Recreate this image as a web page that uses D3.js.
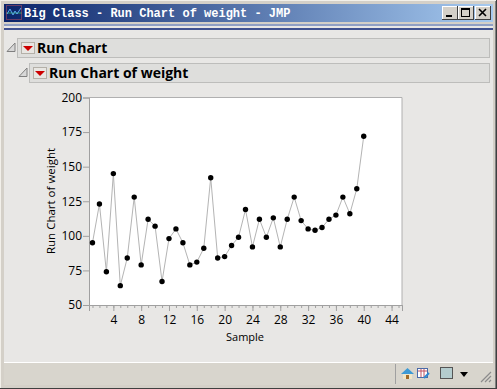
<!DOCTYPE html>
<html>
<head>
<meta charset="utf-8">
<script src="https://cdn.jsdelivr.net/npm/d3@7"></script>
<style>
html, body { margin: 0; padding: 0; background: #d4d0c8; overflow: hidden; }
svg { display: block; }
text { font-family: "Open Sans", sans-serif; }
</style>
</head>
<body>
<script>
let weights = [95, 123, 74, 145, 64, 84, 128, 79, 112, 107, 67, 98, 105, 95, 79, 81, 91, 142, 84, 85,
    93, 99, 119, 92, 112, 99, 113, 92, 112, 128, 111, 105, 104, 106, 112, 115, 128, 116, 134, 172];
let samples = d3.range(1, weights.length + 1);
let xLabels = [4, 8, 12, 16, 20, 24, 28, 32, 36, 40, 44];
let xMinor = d3.range(1, 46);
let yLabels = [50, 75, 100, 125, 150, 175, 200];

let windowTitle = "Big Class - Run Chart of weight - JMP";
let outlineTitle = "Run Chart";
let reportTitle = "Run Chart of weight";
let xTitle = "Sample";
let yTitle = "Run Chart of weight";

let size = {width: 497, height: 389};
let plot = {left: 89, right: 402, top: 97.5, bottom: 305};

let svg = d3.select("body").append("svg")
    .attr("width", size.width)
    .attr("height", size.height);

let defs = svg.append("defs");
let grad = defs.append("linearGradient").attr("id", "titlebar");
grad.append("stop").attr("offset", "0%").attr("stop-color", "#0a246a");
grad.append("stop").attr("offset", "100%").attr("stop-color", "#a6caf0");

// window frame
let rect = (x, y, w, h, fill, stroke) => svg.append("rect")
    .attr("x", x).attr("y", y).attr("width", w).attr("height", h)
    .attr("fill", fill).attr("stroke", stroke || "none");

rect(0, 0, 497, 389, "#d4d0c8");
rect(0, 0, 497, 1, "#f2f0ea");
rect(0, 0, 1, 389, "#f2f0ea");
rect(496, 0, 1, 389, "#404040");
rect(0, 388, 497, 1, "#404040");
rect(495, 1, 1, 387, "#808080");
rect(4, 4, 489, 18, "url(#titlebar)");
rect(4, 24, 489, 2, "#8f9fc4");
rect(4, 26, 489, 2, "#e8e7e5");
rect(4, 28, 489, 2, "#3f5190");
rect(4, 30, 489, 332, "#e8e7e5");
rect(4, 362, 489, 1, "#ffffff");
rect(4, 363, 489, 22, "#d8d5cd");
rect(395, 364, 1, 20, "#a0a0a0");

// title bar
svg.append("g").attr("stroke", "#1aa05a").attr("fill", "none").call(g => {
    g.append("path").attr("d", "M6 13H22").attr("stroke", "#2fa060");
    g.append("path").attr("d", "M7 14L10 9L13 15L15 11L17 14L21 8").attr("stroke", "#5aa8ee");
    g.append("rect").attr("x", 6.5).attr("y", 5.5).attr("width", 15).attr("height", 14)
        .attr("stroke", "#c05060").attr("stroke-dasharray", "1 1");
});
svg.append("text")
    .attr("x", 24).attr("y", 17)
    .style("font-family", "'Liberation Mono', monospace")
    .style("font-weight", "bold").style("font-size", "12px")
    .attr("fill", "#ffffff")
    .text(windowTitle);

// window buttons
[442, 458, 475].forEach((x, i) => {
    rect(x, 6, 16, 14, "#d4d0c8");
    rect(x, 6, 16, 1, "#ffffff");
    rect(x, 6, 1, 14, "#ffffff");
    rect(x, 19, 16, 1, "#404040");
    rect(x + 15, 6, 1, 14, "#404040");
    if (i === 0) rect(x + 4, 15, 6, 2, "#000000");
    if (i === 1) {
        rect(x + 3.5, 8.5, 8, 8, "none", "#000000");
        rect(x + 3, 8, 9, 2, "#000000");
    }
    if (i === 2) {
        svg.append("path").attr("d", `M${x + 4} 9L${x + 11} 16M${x + 11} 9L${x + 4} 16`)
            .attr("stroke", "#000000").attr("stroke-width", 1.6);
    }
});

// outline headers
function header(x, y, w, label) {
    rect(x + 0.5, y + 0.5, w, 19, "#dededc", "#bdbdbb");
    svg.append("path").attr("d", `M${x - 10} ${y + 13.5}H${x - 2}V${y + 5}Z`)
        .attr("fill", "#d8d8d8").attr("stroke", "#808080");
    rect(x + 4.5, y + 4.5, 13, 11, "#e8e6e2", "#b4b0a8");
    svg.append("path").attr("d", `M${x + 6} ${y + 8}H${x + 16}L${x + 11} ${y + 13}Z`).attr("fill", "#cc0000");
    svg.append("text").attr("x", x + 20).attr("y", y + 15)
        .style("font-family", "'Open Sans', sans-serif")
        .style("font-weight", "bold").style("font-size", "14px")
        .attr("fill", "#000000").text(label);
}
header(17, 38, 472, outlineTitle);
header(29, 63, 460, reportTitle);

// scales
let x = d3.scaleLinear().domain([0.5, 45.5]).range([plot.left, plot.right]);
let y = d3.scaleLinear().domain([50, 200]).range([plot.bottom, plot.top]);

svg.append("rect")
    .attr("x", plot.left).attr("y", plot.top)
    .attr("width", plot.right - plot.left).attr("height", plot.bottom - plot.top)
    .attr("fill", "#ffffff");

// axes
let xAxisMinor = d3.axisBottom(x).tickValues(xMinor).tickSize(3).tickFormat("");
let xAxis = d3.axisBottom(x).tickValues(xLabels).tickSize(6).tickPadding(4);
let yAxis = d3.axisLeft(y).tickValues(yLabels).tickSize(6).tickPadding(1);

let styleAxis = g => {
    g.selectAll(".domain").attr("stroke", "#a0a0a0");
    g.selectAll(".tick line").attr("stroke", "#a0a0a0");
    g.selectAll("text").style("font-size", "12px").attr("fill", "#000000");
};

svg.append("g").attr("transform", `translate(0,${plot.bottom})`).call(xAxisMinor).call(styleAxis);
svg.append("g").attr("transform", `translate(0,${plot.bottom})`).call(xAxis).call(styleAxis);
svg.append("g").attr("transform", `translate(${plot.left},0)`).call(yAxis).call(styleAxis);

// plot frame top and right
svg.append("path")
    .attr("d", `M${plot.left} ${plot.top}H${plot.right}V${plot.bottom}`)
    .attr("fill", "none").attr("stroke", "#b0b0b0");

// run line and points
let line = d3.line().x((d, i) => x(samples[i])).y(d => y(d));
svg.append("path")
    .datum(weights)
    .attr("d", line)
    .attr("fill", "none")
    .attr("stroke", "#b4b4b4")
    .attr("stroke-width", 1);

svg.append("g")
    .selectAll("circle")
    .data(weights)
    .join("circle")
    .attr("cx", (d, i) => x(samples[i]))
    .attr("cy", d => y(d))
    .attr("r", 2.7)
    .attr("fill", "#000000");

// axis titles
svg.append("text")
    .attr("x", 245).attr("y", 341)
    .attr("text-anchor", "middle")
    .style("font-size", "11px")
    .text(xTitle);
svg.append("text")
    .attr("transform", "translate(55,201) rotate(-90)")
    .attr("text-anchor", "middle")
    .style("font-size", "11.5px")
    .text(yTitle);

// status bar icons
svg.append("g").call(g => {
    g.append("path").attr("d", "M401 374L407.5 368L414 374Z").attr("fill", "#3d9ad6");
    g.append("rect").attr("x", 403).attr("y", 374).attr("width", 9).attr("height", 5).attr("fill", "#f0e6c8");
    g.append("rect").attr("x", 406).attr("y", 375).attr("width", 3).attr("height", 4).attr("fill", "#a06a28");
    g.append("rect").attr("x", 417.5).attr("y", 368.5).attr("width", 10).attr("height", 9)
        .attr("fill", "#ffffff").attr("stroke", "#4a6aa8");
    g.append("path").attr("d", "M418 371H427M421 369V377M424 369V377").attr("stroke", "#c05060");
    g.append("path").attr("d", "M424 378L429 373").attr("stroke", "#2f88d0").attr("stroke-width", 2);
    g.append("rect").attr("x", 440.5).attr("y", 367.5).attr("width", 12).attr("height", 11)
        .attr("fill", "#b4ccce").attr("stroke", "#555555");
    g.append("path").attr("d", "M460 372H468L464 377Z").attr("fill", "#000000");
    g.append("path").attr("d", "M481 382L491 372M485 382L491 376M489 382L491 380")
        .attr("stroke", "#8c8c8c").attr("stroke-width", 1.2);
});
</script>
</body>
</html>
